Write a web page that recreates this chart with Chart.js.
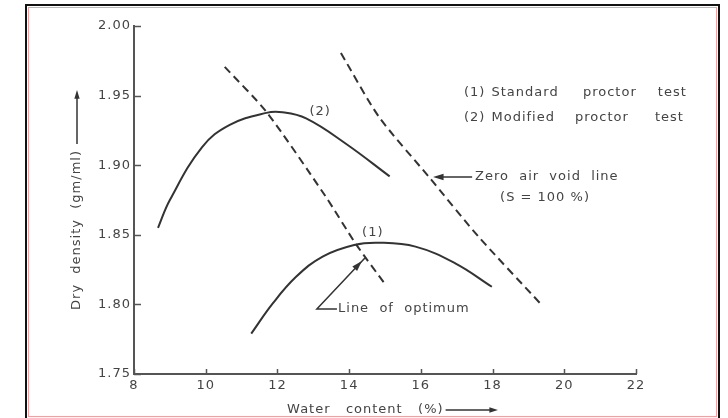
<!DOCTYPE html>
<html>
<head>
<meta charset="utf-8">
<title>Compaction curves</title>
<script src="https://cdn.jsdelivr.net/npm/chart.js@4.4.1/dist/chart.umd.min.js"></script>
<style>
    html, body { margin: 0; padding: 0; background: #fff; }
    #wrap { width: 728px; height: 418px; position: relative; }
    canvas { display: block; }
</style>
</head>
<body>
<div id="wrap"><canvas id="chart" width="728" height="418"></canvas></div>
<script>
// axis ticks
const xTicks = [8, 10, 12, 14, 16, 18, 20, 22];
const yTicks = [1.75, 1.80, 1.85, 1.90, 1.95, 2.00];

// (2) modified proctor test
const modifiedWater = [8.67, 9.0, 9.9, 10.67, 11.69, 12.14, 12.8, 13.9, 15.13];
const modifiedDensity = [1.855, 1.875, 1.913, 1.929, 1.9376, 1.938, 1.9336, 1.9156, 1.892];

// (1) standard proctor test
const standardWater = [11.27, 11.87, 12.52, 13.26, 14.14, 14.83, 15.85, 16.96, 17.98];
const standardDensity = [1.779, 1.8007, 1.8198, 1.8344, 1.8427, 1.8443, 1.8415, 1.8295, 1.8127];

// line of optimum
const optimumWater = [10.53, 11.69, 13.35, 14.19, 15.02];
const optimumDensity = [1.9706, 1.9384, 1.8773, 1.8433, 1.8139];

// zero air void line
const zavWater = [13.77, 14.83, 16.22, 17.61, 19.33];
const zavDensity = [1.9806, 1.9348, 1.8917, 1.8486, 1.8007];

const ink = '#333';
const textInk = '#444';
const spacing = '1px';
const fnt = size => `${size}px "DejaVu Sans", sans-serif`;

const toPoints = (xs, ys) => xs.map((v, i) => ({ x: v, y: ys[i] }));

// text notes, placed in data units (water %, density)
const notes = [
    { text: '(2)', x: 13.19, y: 1.9382, align: 'center' },
    { text: '(1)', x: 14.66, y: 1.8513, align: 'center' },
    { text: '(1)', x: 17.2, y: 1.9518 },
    { text: 'Standard', x: 17.97, y: 1.9518 },
    { text: 'proctor', x: 20.52, y: 1.9518 },
    { text: 'test', x: 22.61, y: 1.9518 },
    { text: '(2)', x: 17.2, y: 1.9339 },
    { text: 'Modified', x: 17.97, y: 1.9339 },
    { text: 'proctor', x: 20.30, y: 1.9339 },
    { text: 'test', x: 22.53, y: 1.9339 },
    { text: 'Zero  air  void  line', x: 17.51, y: 1.8915 },
    { text: '(S = 100 %)', x: 18.21, y: 1.8764 },
    { text: 'Line  of  optimum', x: 13.69, y: 1.7967 }
];

function arrowHead(ctx, fromX, fromY, toX, toY, len) {
    const ang = Math.atan2(toY - fromY, toX - fromX);
    ctx.beginPath();
    ctx.moveTo(toX, toY);
    ctx.lineTo(toX - len * Math.cos(ang - 0.3), toY - len * Math.sin(ang - 0.3));
    ctx.lineTo(toX - len * Math.cos(ang + 0.3), toY - len * Math.sin(ang + 0.3));
    ctx.closePath();
    ctx.fill();
}

const decor = {
    id: 'decor',
    beforeDraw(chart) {
        const ctx = chart.ctx;
        // the drawing's lettering is widely spaced
        ctx.letterSpacing = spacing;
        ctx.save();
        ctx.fillStyle = '#fff';
        ctx.fillRect(0, 0, chart.width, chart.height);
        ctx.restore();
    },
    afterDraw(chart) {
        const { ctx, chartArea: a, scales: { x, y } } = chart;
        ctx.save();
        ctx.letterSpacing = spacing;

        // frame round the figure
        ctx.strokeStyle = '#111';
        ctx.lineWidth = 2;
        ctx.strokeRect(26, 5, 693, 430);
        ctx.strokeStyle = '#f2a0a0';
        ctx.lineWidth = 1;
        ctx.strokeRect(28.5, 7.5, 688, 409);

        // inward tick marks
        ctx.strokeStyle = '#555';
        ctx.lineWidth = 1.5;
        yTicks.forEach(v => {
            const py = Math.round(y.getPixelForValue(v)) + 0.5;
            ctx.beginPath();
            ctx.moveTo(a.left, py);
            ctx.lineTo(a.left + 7, py);
            ctx.stroke();
        });
        xTicks.forEach(v => {
            const px = Math.round(x.getPixelForValue(v)) + 0.5;
            ctx.beginPath();
            ctx.moveTo(px, a.bottom);
            ctx.lineTo(px, a.bottom - 5);
            ctx.stroke();
        });

        // notes
        ctx.fillStyle = textInk;
        ctx.font = fnt(13);
        ctx.textBaseline = 'middle';
        notes.forEach(n => {
            ctx.textAlign = n.align || 'left';
            ctx.fillText(n.text, x.getPixelForValue(n.x), y.getPixelForValue(n.y));
        });

        // arrow to zero air void line
        ctx.strokeStyle = ink;
        ctx.fillStyle = ink;
        ctx.lineWidth = 1.5;
        const zy = y.getPixelForValue(1.8915);
        const zx0 = x.getPixelForValue(16.34);
        const zx1 = x.getPixelForValue(17.43);
        ctx.beginPath();
        ctx.moveTo(zx1, zy);
        ctx.lineTo(zx0 + 4, zy);
        ctx.stroke();
        arrowHead(ctx, zx1, zy, zx0, zy, 11);

        // leader to line of optimum
        const ex = x.getPixelForValue(13.10), ey = y.getPixelForValue(1.7967);
        const hx = x.getPixelForValue(13.66);
        const tx = x.getPixelForValue(14.44), ty = y.getPixelForValue(1.8333);
        ctx.beginPath();
        ctx.moveTo(hx, ey);
        ctx.lineTo(ex, ey);
        ctx.lineTo(tx, ty);
        ctx.stroke();
        arrowHead(ctx, ex, ey, tx - 3, ty + 3, 11);

        // y title, rotated, with arrow
        const yTitle = 'Dry  density  (gm/ml)';
        const yLen = ctx.measureText(yTitle).width;
        const yBase = y.getPixelForValue(1.796);
        const ax = a.left - 57;
        ctx.fillStyle = textInk;
        ctx.save();
        ctx.translate(ax, yBase);
        ctx.rotate(-Math.PI / 2);
        ctx.textAlign = 'left';
        ctx.fillText(yTitle, 0, 0);
        ctx.restore();
        const ay0 = yBase - yLen - 6, ay1 = y.getPixelForValue(1.954);
        ctx.beginPath();
        ctx.moveTo(ax, ay0);
        ctx.lineTo(ax, ay1 + 4);
        ctx.stroke();
        ctx.fillStyle = ink;
        arrowHead(ctx, ax, ay0, ax, ay1, 9);

        // x title with arrow
        const xTitle = 'Water   content   (%)';
        const xStart = x.getPixelForValue(12.27);
        const xBase = a.bottom + 36;
        ctx.fillStyle = textInk;
        ctx.textAlign = 'left';
        ctx.fillText(xTitle, xStart, xBase);
        const bx0 = xStart + ctx.measureText(xTitle).width + 2;
        const bx1 = x.getPixelForValue(18.15);
        ctx.beginPath();
        ctx.moveTo(bx0, xBase);
        ctx.lineTo(bx1 - 4, xBase);
        ctx.stroke();
        ctx.fillStyle = ink;
        arrowHead(ctx, bx0, xBase, bx1, xBase, 9);

        ctx.restore();
    }
};

const solid = { borderColor: ink, borderWidth: 2, pointRadius: 0, tension: 0.4, fill: false };
const dashed = { borderColor: ink, borderWidth: 2, pointRadius: 0, borderDash: [8, 5], tension: 0.25, fill: false };

new Chart(document.getElementById('chart'), {
    type: 'line',
    data: {
        datasets: [
            { label: '(2) Modified proctor test', data: toPoints(modifiedWater, modifiedDensity), ...solid },
            { label: '(1) Standard proctor test', data: toPoints(standardWater, standardDensity), ...solid },
            { label: 'Line of optimum', data: toPoints(optimumWater, optimumDensity), ...dashed },
            { label: 'Zero air void line', data: toPoints(zavWater, zavDensity), ...dashed }
        ]
    },
    options: {
        responsive: false,
        animation: false,
        devicePixelRatio: 1,
        layout: { padding: { left: 60, right: 92, top: 26, bottom: 0 } },
        plugins: { legend: { display: false }, tooltip: { enabled: false } },
        scales: {
            x: {
                type: 'linear',
                min: 8,
                max: 22,
                afterFit: s => { s.height = 44; },
                afterBuildTicks: s => { s.ticks = xTicks.map(v => ({ value: v })); },
                grid: { drawOnChartArea: false, drawTicks: false },
                border: { display: true, color: '#555', width: 2 },
                ticks: { color: textInk, font: { family: 'DejaVu Sans', size: 13 }, padding: 4, maxRotation: 0, autoSkip: false, callback: v => String(v) }
            },
            y: {
                type: 'linear',
                min: 1.75,
                max: 2.00,
                afterFit: s => { s.width = 74; },
                afterBuildTicks: s => { s.ticks = yTicks.map(v => ({ value: v })); },
                grid: { drawOnChartArea: false, drawTicks: false },
                border: { display: true, color: '#555', width: 2 },
                ticks: { color: textInk, font: { family: 'DejaVu Sans', size: 13 }, padding: 3, autoSkip: false, callback: v => v.toFixed(2) }
            }
        }
    },
    plugins: [decor]
});
</script>
</body>
</html>
